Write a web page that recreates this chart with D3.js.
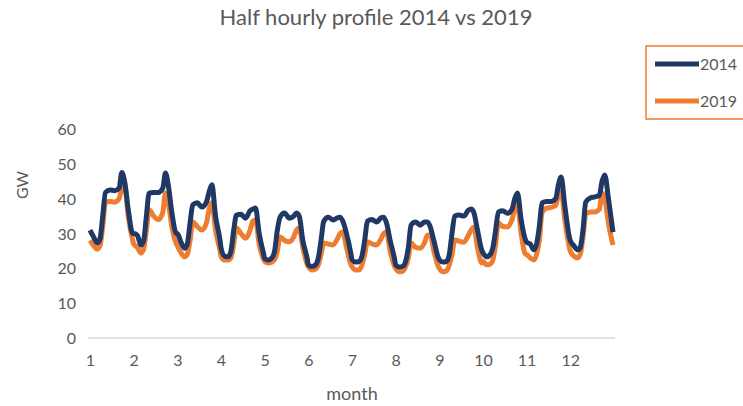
<!DOCTYPE html>
<html>
<head>
<meta charset="utf-8">
<script src="https://cdn.jsdelivr.net/npm/d3@7"></script>
<style>
  body { margin: 0; background: #fff; }
  text { font-family: Lato, "Open Sans", sans-serif; fill: #595959; }
</style>
</head>
<body>
<div id="graph"></div>
<script>
// month labels on the x axis
var months = ["1","2","3","4","5","6","7","8","9","10","11","12"];
// hour of day of each sampled point inside a month (half hour index = hour*2)
var hours = [0, 2, 4, 5.5, 7, 8.5, 11, 13.5, 16, 17.5, 19, 21, 23.5];
var yTicks = [0, 10, 20, 30, 40, 50, 60];

// GW, one row per month
var gw2014 = [
  [31, 29, 27.3, 28.5, 35, 41.8, 42.5, 42.3, 43, 47.5, 45, 37, 30],
  [30, 29.5, 26.7, 28, 35, 41.6, 41.8, 41.8, 43, 47.4, 44, 36, 30],
  [30, 27.5, 25.8, 27, 33, 38.2, 38.8, 37.6, 39, 42, 44, 35, 28],
  [26, 23.5, 23.3, 25, 31, 35.3, 35.5, 34.4, 36.5, 37, 37.3, 30, 24],
  [22.8, 22.4, 23, 25, 31, 34.7, 35.9, 34.4, 35, 35.9, 35, 28, 22.5],
  [21, 20.5, 21, 23, 28, 33.5, 34.7, 33.9, 34.5, 34.7, 33.5, 30, 24],
  [22.5, 21.8, 22, 23.5, 28, 33.5, 34, 33.3, 34.5, 34.7, 33, 28, 22.5],
  [21, 20.4, 20.6, 22, 26, 32.4, 33.3, 32.4, 33.3, 33.3, 32, 28, 23],
  [22.5, 21.8, 22, 24, 30, 35, 35.3, 35, 36.7, 37, 36, 31, 25],
  [24.5, 23.3, 24, 26, 31, 36.2, 36.5, 35.8, 37, 40, 41.6, 34, 28],
  [27.5, 27, 25.3, 27, 32, 38.8, 39.2, 39.2, 40, 44, 46.2, 38, 29],
  [28, 26.5, 25.3, 26, 31, 39, 40.2, 40.5, 41, 45, 46.8, 40, 30.4]
];
var gw2019 = [
  [28, 26.5, 25.5, 26.5, 32, 39, 39.2, 39, 40, 43, 44, 35, 28],
  [27, 26, 24.4, 25.5, 31, 36.8, 35, 34, 36, 41.6, 39, 32, 27],
  [26.5, 24.5, 23.3, 24, 28, 33.3, 32, 31, 33, 37, 38.8, 31, 25],
  [23.5, 22.4, 22.4, 23, 27, 31.6, 30, 28.7, 31, 33.5, 33.9, 27, 22.5],
  [22, 21.5, 21.8, 22.5, 25, 29, 28, 27.6, 29, 31, 31.6, 26, 21],
  [20.5, 19.5, 19.8, 21, 24, 27.3, 27, 26.7, 28.5, 30, 30.4, 26, 21],
  [20.5, 19.5, 19.6, 21, 24, 27.6, 27, 26.7, 28.5, 30, 30.4, 25, 20.5],
  [20, 19, 19.2, 20.5, 23, 27.3, 26, 25.8, 27.5, 29.5, 29.6, 25, 20.5],
  [20, 19, 19.3, 21, 24, 28.1, 27.8, 27.5, 29.5, 31, 31.9, 26, 21.5],
  [22, 21, 21.2, 22.5, 27, 33, 32, 31.9, 34, 37, 38.2, 30, 24],
  [24, 23, 22.4, 24, 28, 36, 37.3, 37.5, 38, 41, 42, 34, 26],
  [25, 23.5, 23, 24, 29, 35.5, 36.2, 36.2, 37, 41.6, 40, 33, 26.7]
];

var width = 743, height = 406;
var svg = d3.select("#graph")
  .append("svg")
  .attr("width", width)
  .attr("height", height);

// flatten month rows into points along the half hour index
function toPoints(rows) {
  var pts = [];
  rows.forEach(function (row, m) {
    row.forEach(function (v, k) {
      pts.push({ idx: m * 48 + hours[k] * 2, value: v });
    });
  });
  return pts;
}

var x = d3.scaleLinear().domain([0, 575]).range([90, 613]);
var y = d3.scaleLinear().domain([0, 60]).range([338, 129]);

// title
svg.append("text")
  .attr("x", 376).attr("y", 25)
  .attr("text-anchor", "middle")
  .style("font-size", "22px")
  .text("Half hourly profile 2014 vs 2019");

// y axis labels (no axis line in the original)
svg.append("g")
  .selectAll("text")
  .data(yTicks)
  .enter()
  .append("text")
  .attr("x", 76)
  .attr("y", function (d) { return y(d) + 6; })
  .attr("text-anchor", "end")
  .style("font-size", "16px")
  .text(function (d) { return d; });

svg.append("text")
  .attr("transform", "translate(28,185) rotate(-90)")
  .attr("text-anchor", "middle")
  .style("font-size", "16px")
  .text("GW");

// x axis
var xAxis = svg.append("g")
  .attr("transform", "translate(0," + y(0) + ")")
  .call(d3.axisBottom(x)
    .tickValues(months.map(function (d, i) { return i * 48; }))
    .tickFormat(function (d) { return months[d / 48]; })
    .tickSize(0)
    .tickPadding(17));
xAxis.select(".domain")
  .attr("d", "M88,0H615")
  .attr("stroke", "#d9d9d9")
  .attr("stroke-width", 1.5);
xAxis.selectAll("text")
  .style("font-size", "16px")
  .style("font-family", "Lato, 'Open Sans', sans-serif")
  .attr("fill", "#595959");

svg.append("text")
  .attr("x", 352).attr("y", 400)
  .attr("text-anchor", "middle")
  .style("font-size", "18px")
  .text("month");

// lines
var line = d3.line()
  .x(function (d) { return x(d.idx); })
  .y(function (d) { return y(d.value); })
  .curve(d3.curveMonotoneX);

var series = [
  { name: "2014", color: "#203864", rows: gw2014 },
  { name: "2019", color: "#ed7d31", rows: gw2019 }
];

svg.selectAll(".series")
  .data(series.slice().reverse())
  .enter()
  .append("path")
  .attr("fill", "none")
  .attr("stroke", function (d) { return d.color; })
  .attr("stroke-width", 5)
  .attr("stroke-linejoin", "round")
  .attr("d", function (d) { return line(toPoints(d.rows)); });

// legend
var legend = svg.append("g");
legend.append("rect")
  .attr("x", 646).attr("y", 46)
  .attr("width", 110).attr("height", 73)
  .attr("fill", "#fff")
  .attr("stroke", "#ed7d31")
  .attr("stroke-width", 1.5);
series.forEach(function (s, i) {
  var ly = 64 + i * 37;
  legend.append("line")
    .attr("x1", 655).attr("x2", 699)
    .attr("y1", ly).attr("y2", ly)
    .attr("stroke", s.color)
    .attr("stroke-width", 5);
  legend.append("text")
    .attr("x", 700).attr("y", ly + 6)
    .style("font-size", "16px")
    .text(s.name);
});
</script>
</body>
</html>
